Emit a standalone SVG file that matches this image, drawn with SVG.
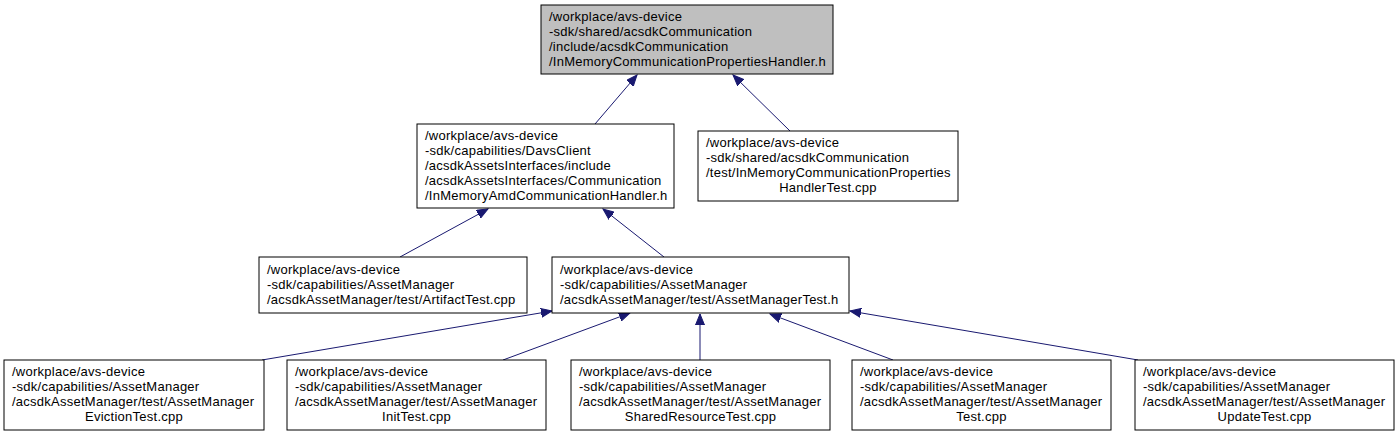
<svg xmlns="http://www.w3.org/2000/svg" width="1400" height="437" viewBox="0 0 1400 437">
<style>
.n rect{fill:#fff;stroke:#000;stroke-width:1}
.n.cur rect{fill:#bfbfbf}
.n text{font-family:"Liberation Sans",Arial,sans-serif;font-size:13px;letter-spacing:0.25px;fill:#000}
.e line{stroke:#191970;stroke-width:1;fill:none}
</style>
<defs>
<marker id="ah" markerUnits="userSpaceOnUse" markerWidth="12" markerHeight="10" refX="11" refY="5" orient="auto">
<path d="M0,0.5 L11,5 L0,9.5 z" fill="#191970" stroke="#191970"/>
</marker>
</defs>
<rect width="1400" height="437" fill="#fff"/>
<g id="edges" class="e">
<line x1="595" y1="124" x2="637" y2="75" marker-end="url(#ah)"/>
<line x1="790" y1="131" x2="733" y2="75" marker-end="url(#ah)"/>
<line x1="400" y1="257" x2="488" y2="209" marker-end="url(#ah)"/>
<line x1="664" y1="257" x2="603" y2="209" marker-end="url(#ah)"/>
<line x1="262" y1="360" x2="552" y2="311" marker-end="url(#ah)"/>
<line x1="503" y1="360" x2="630" y2="313" marker-end="url(#ah)"/>
<line x1="700" y1="360" x2="700" y2="314" marker-end="url(#ah)"/>
<line x1="893" y1="360" x2="770" y2="314" marker-end="url(#ah)"/>
<line x1="1138" y1="360" x2="850" y2="311" marker-end="url(#ah)"/>
</g>
<g id="node1" class="n cur">
<rect x="541" y="5" width="292" height="69"/>
<text x="549" y="21">/workplace/avs-device</text>
<text x="549" y="36">-sdk/shared/acsdkCommunication</text>
<text x="549" y="51">/include/acsdkCommunication</text>
<text x="549" y="66">/InMemoryCommunicationPropertiesHandler.h</text>
</g>
<g id="node2" class="n">
<rect x="417" y="124" width="257" height="84"/>
<text x="425" y="140">/workplace/avs-device</text>
<text x="425" y="155">-sdk/capabilities/DavsClient</text>
<text x="425" y="170">/acsdkAssetsInterfaces/include</text>
<text x="425" y="185">/acsdkAssetsInterfaces/Communication</text>
<text x="425" y="200">/InMemoryAmdCommunicationHandler.h</text>
</g>
<g id="node3" class="n">
<rect x="698" y="131" width="260" height="70"/>
<text x="706" y="147">/workplace/avs-device</text>
<text x="706" y="162">-sdk/shared/acsdkCommunication</text>
<text x="706" y="177">/test/InMemoryCommunicationProperties</text>
<text x="828" y="192" text-anchor="middle">HandlerTest.cpp</text>
</g>
<g id="node4" class="n">
<rect x="259" y="257" width="268" height="56"/>
<text x="267" y="274">/workplace/avs-device</text>
<text x="267" y="289">-sdk/capabilities/AssetManager</text>
<text x="267" y="304">/acsdkAssetManager/test/ArtifactTest.cpp</text>
</g>
<g id="node5" class="n">
<rect x="552" y="257" width="297" height="56"/>
<text x="560" y="274">/workplace/avs-device</text>
<text x="560" y="289">-sdk/capabilities/AssetManager</text>
<text x="560" y="304">/acsdkAssetManager/test/AssetManagerTest.h</text>
</g>
<g id="node6" class="n">
<rect x="4" y="360" width="260" height="70"/>
<text x="12" y="376">/workplace/avs-device</text>
<text x="12" y="391">-sdk/capabilities/AssetManager</text>
<text x="12" y="406">/acsdkAssetManager/test/AssetManager</text>
<text x="134" y="421" text-anchor="middle">EvictionTest.cpp</text>
</g>
<g id="node7" class="n">
<rect x="287" y="360" width="259" height="70"/>
<text x="295" y="376">/workplace/avs-device</text>
<text x="295" y="391">-sdk/capabilities/AssetManager</text>
<text x="295" y="406">/acsdkAssetManager/test/AssetManager</text>
<text x="416.5" y="421" text-anchor="middle">InitTest.cpp</text>
</g>
<g id="node8" class="n">
<rect x="571" y="360" width="259" height="70"/>
<text x="579" y="376">/workplace/avs-device</text>
<text x="579" y="391">-sdk/capabilities/AssetManager</text>
<text x="579" y="406">/acsdkAssetManager/test/AssetManager</text>
<text x="700.5" y="421" text-anchor="middle">SharedResourceTest.cpp</text>
</g>
<g id="node9" class="n">
<rect x="852" y="360" width="259" height="70"/>
<text x="860" y="376">/workplace/avs-device</text>
<text x="860" y="391">-sdk/capabilities/AssetManager</text>
<text x="860" y="406">/acsdkAssetManager/test/AssetManager</text>
<text x="981.5" y="421" text-anchor="middle">Test.cpp</text>
</g>
<g id="node10" class="n">
<rect x="1135" y="360" width="259" height="70"/>
<text x="1143" y="376">/workplace/avs-device</text>
<text x="1143" y="391">-sdk/capabilities/AssetManager</text>
<text x="1143" y="406">/acsdkAssetManager/test/AssetManager</text>
<text x="1264.5" y="421" text-anchor="middle">UpdateTest.cpp</text>
</g>
</svg>
